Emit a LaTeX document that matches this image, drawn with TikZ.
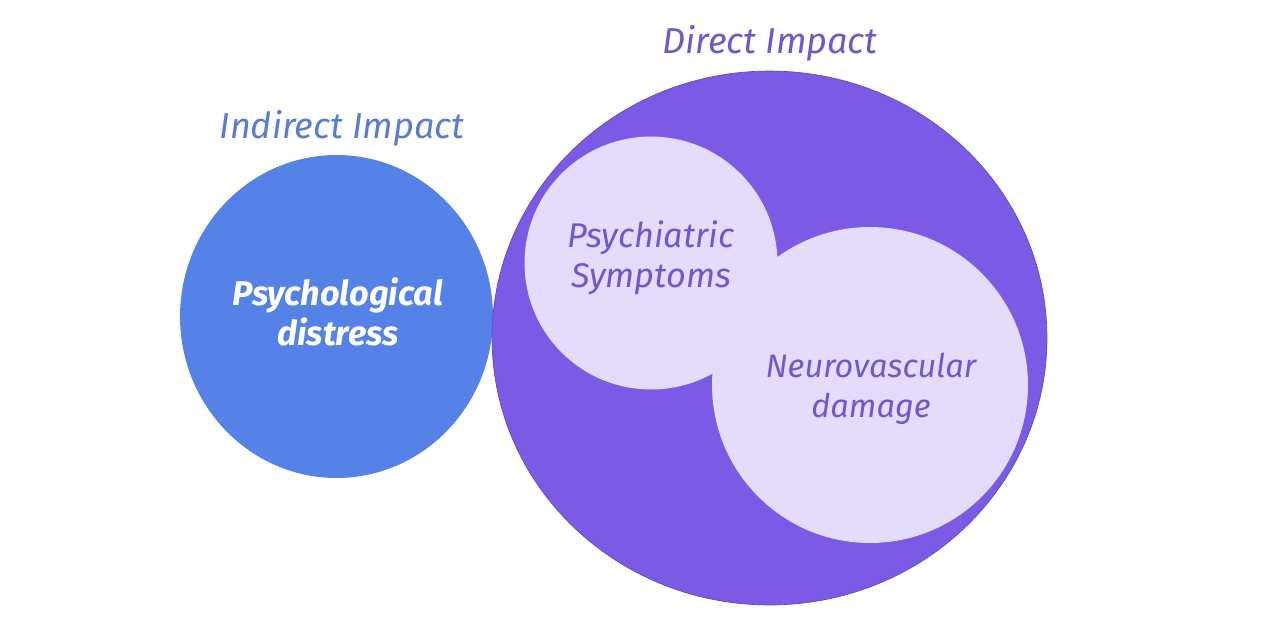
\documentclass[tikz,border=0pt]{standalone}
\usepackage{fontspec}
\usetikzlibrary{shapes.geometric}
\setmainfont{Fira Sans}
\definecolor{cblue}{HTML}{5582E6}
\definecolor{cpurple}{HTML}{7B5BE5}
\definecolor{clight}{HTML}{E4DCFA}
\definecolor{tpurple}{HTML}{7157CC}
\definecolor{tblue}{HTML}{5A7DD0}
\begin{document}
\begin{tikzpicture}[x=0.02cm,y=-0.02cm,
  lbl/.style={font=\fontsize{18.5}{22.5}\selectfont\itshape, align=center, inner sep=0pt},
  ttl/.style={font=\fontsize{20.5}{24}\selectfont\itshape, inner sep=0pt}]
\useasboundingbox (0,0) rectangle (1280,620);
\fill[white] (0,0) rectangle (1280,620);
\node[ellipse, inner sep=0pt, fill=cblue, minimum width=6.26cm, minimum height=6.46cm] (ind) at (336.5,316.5) {};
\node[ellipse, inner sep=0pt, fill=cpurple, draw=cpurple!80!black, line width=0.4pt, minimum width=11.1cm, minimum height=10.68cm] (dir) at (769.5,338) {};
\node[circle, inner sep=0pt, fill=clight, minimum size=5.06cm] (psy) at (651,263) {};
\node[circle, inner sep=0pt, fill=clight, minimum size=6.32cm] (neu) at (870,385) {};
\node[ttl, text=tblue] (indl) at (342,128) {Indirect Impact};
\node[ttl, text=tpurple] (dirl) at (770,43) {Direct Impact};
\node[lbl, text=white, font=\fontsize{19.5}{22.5}\selectfont\itshape\bfseries] (indt) at (338,312) {Psychological\\distress};
\node[lbl, text=tpurple, font=\fontsize{19.5}{22.5}\selectfont\itshape] (psyt) at (651,258) {Psychiatric\\Symptoms};
\node[lbl, text=tpurple] (neut) at (871,389) {Neurovascular\\damage};
\end{tikzpicture}
\end{document}
